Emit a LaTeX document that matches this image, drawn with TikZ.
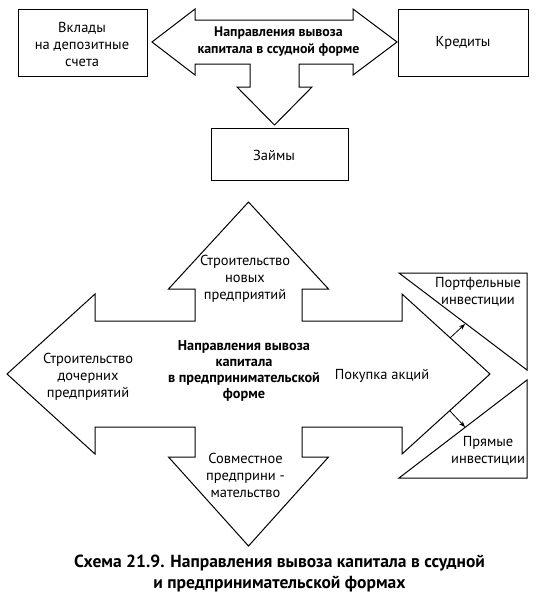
\documentclass[tikz,border=0pt]{standalone}
\usepackage{fontspec}
\setmainfont{PT Sans}
\usetikzlibrary{arrows.meta}
\newlength\lenA
\newlength\lenB
\newlength\lenC
\newlength\lenD
\AtBeginDocument{%
\settowidth{\lenA}{\normalfont\fontsize{10}{12}\selectfont Строительство}%
\settowidth{\lenB}{\normalfont\fontsize{10}{12}\selectfont\bfseries в предпринимательской}%
\settowidth{\lenC}{\normalfont\fontsize{10}{12}\selectfont\bfseries капитала в ссудной форме}%
\settowidth{\lenD}{\normalfont\fontsize{10}{12}\selectfont\bfseries Схема 21.9. Направления вывоза капитала в ссудной}%
\pgfmathsetmacro\szA{900/\lenA}%
\pgfmathsetmacro\szB{1520/\lenB}%
\pgfmathsetmacro\szC{1620/\lenC}%
\pgfmathsetmacro\szD{4110/\lenD}%
}
\begin{document}
\begin{tikzpicture}[x=1pt,y=-1pt,
  outline/.style={draw=black,line width=1pt,line join=miter},
  box/.style={draw=black,line width=1pt},
  txt/.style={align=center,inner sep=0pt,font=\fontsize{\szA}{17}\selectfont},
  btxt/.style={align=center,inner sep=0pt,font=\fontsize{\szB}{16}\selectfont\bfseries},
  ttxt/.style={align=center,inner sep=0pt,font=\fontsize{\szC}{17}\selectfont\bfseries},
  captxt/.style={align=center,inner sep=0pt,font=\fontsize{\szD}{21}\selectfont\bfseries},
  link/.style={draw=black,line width=0.8pt,-{Stealth[length=6pt,width=4.5pt]}}]
\useasboundingbox[fill=white] (0,0) rectangle (547,600);

% top: loan form
\draw[outline] (152,42) -- (195,9) -- (195,20) -- (353,20) -- (353,9) -- (397,42)
  -- (353,75) -- (353,64) -- (299,64) -- (299,87) -- (312,87) -- (274.5,125)
  -- (237,87) -- (250,87) -- (250,64) -- (195,64) -- (195,75) -- cycle;
\draw[box] (18,9) rectangle (147,76);
\draw[box] (398,9) rectangle (528,76);
\draw[box] (211,128) rectangle (348,180);
\node[txt] (vklady) at (82,44) {Вклады\\на депозитные\\счета};
\node[ttxt] (ssud) at (278.5,42) {Направления вывоза\\капитала в ссудной форме};
\node[txt] (kredity) at (463,43) {Кредиты};
\node[txt] (zaimy) at (274,155) {Займы};

% bottom: entrepreneurial form
\draw[outline] (7,374) -- (95,294) -- (95,321) -- (195,321) -- (195,289) -- (168.5,289)
  -- (248.5,202) -- (328.5,289) -- (302,289) -- (302,321) -- (402,321) -- (402,294)
  -- (490,374) -- (402,454) -- (402,427) -- (302,427) -- (302,457) -- (328.5,457)
  -- (248.5,546) -- (168.5,457) -- (195,457) -- (195,427) -- (95,427) -- (95,454) -- cycle;
\draw[outline] (399,273) -- (527,273) -- (527,370) -- cycle;
\draw[outline] (527,380) -- (527,478) -- (399,478) -- cycle;

\node[txt] (novye) at (245,279) {Строительство\\новых\\предприятий};
\node[txt] (doch) at (88,377) {Строительство\\дочерних\\предприятий};
\node[btxt] (predp) at (244,371) {Направления вывоза\\капитала\\в предпринимательской\\форме};
\node[txt] (akcii) at (382,376) {Покупка акций};
\node[txt] (portf) at (478,291.5) {Портфельные\\инвестиции};
\node[txt] (pryam) at (488,451) {Прямые\\инвестиции};
\node[txt] (sovm) at (245.5,475) {Совместное\\предприни -\\мательство};

\coordinate (a1s) at (450,338);
\coordinate (a1e) at (465,324);
\coordinate (a2s) at (450,411);
\coordinate (a2e) at (465,427);
\draw[link] (a1s) -- (a1e);
\draw[link] (a2s) -- (a2e);

\node[captxt] (caption) at (279.5,573) {Схема 21.9. Направления вывоза капитала в ссудной\\и предпринимательской формах};
\end{tikzpicture}
\end{document}
